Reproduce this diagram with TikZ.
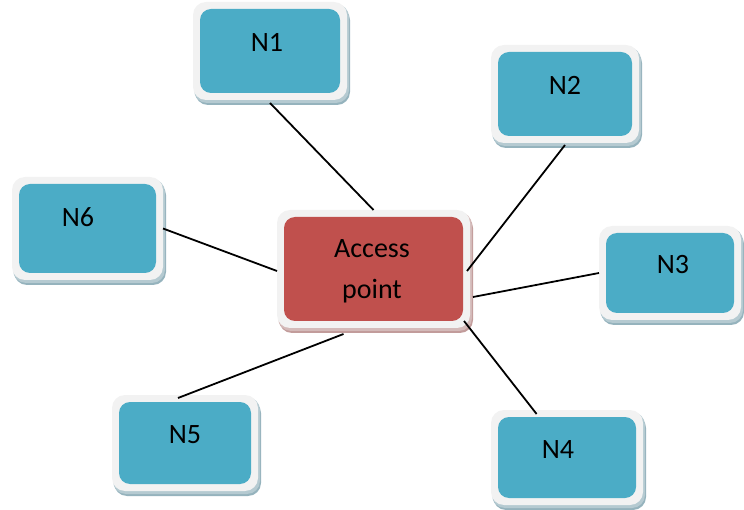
\documentclass[tikz,border=0pt]{standalone}
\usepackage{fontspec}
\setmainfont{Carlito}
\usetikzlibrary{calc}
\definecolor{teal}{HTML}{4BACC6}
\definecolor{apred}{HTML}{C0504D}
\definecolor{framecol}{HTML}{F2F2F2}
\definecolor{blueshadow}{HTML}{95B3BD}
\definecolor{redshadow}{HTML}{C29C9B}
\tikzset{
  framebox/.style={fill=framecol, rounded corners=13pt, inner sep=0pt, outer sep=0pt},
  labeltext/.style={font=\fontsize{28}{33}\selectfont, text=black, inner sep=0pt},
  link/.style={draw=black, line width=1.8pt}
}
% #1 name, #2 x1, #3 y1, #4 x2, #5 y2, #6 fill, #7 shadow colour
\newcommand\netbox[7]{%
  \fill[#7, rounded corners=13pt] (#2+2,#3+5) rectangle (#4+3,#5+5);
  \fill[white, rounded corners=13pt] (#2+1,#3+3) rectangle (#4+1,#5+2);
  \fill[#7!70!white, rounded corners=13pt] (#2+1,#3+2) rectangle (#4+2,#5+3);
  \node[framebox, minimum width={#4-#2}, minimum height={#5-#3}] (#1) at ({(#2+#4)/2},{(#3+#5)/2}) {};
  \fill[#6, rounded corners=11pt] (#2+7,#3+7) rectangle (#4-7,#5-7);
}
\begin{document}
\begin{tikzpicture}[x=1pt,y=-1pt]
\useasboundingbox (0,0) rectangle (744,510);
\netbox{n1}{193}{2}{347}{100}{teal}{blueshadow}
\netbox{n2}{491}{45}{639}{143}{teal}{blueshadow}
\netbox{n3}{599}{226}{741}{320}{teal}{blueshadow}
\netbox{n4}{491}{410}{643}{505}{teal}{blueshadow}
\netbox{n5}{112}{395}{258}{491}{teal}{blueshadow}
\netbox{n6}{12}{177}{163}{280}{teal}{blueshadow}
\netbox{ap}{277}{210}{470}{328}{apred}{redshadow}
\node[labeltext] (t1) at (267,42) {N1};
\node[labeltext] (t2) at (565,85) {N2};
\node[labeltext] (t3) at (673,265) {N3};
\node[labeltext] (t4) at (558,450) {N4};
\node[labeltext] (t5) at (185,435) {N5};
\node[labeltext] (t6) at (78,217) {N6};
\node[labeltext, anchor=base] (ta) at (372,258) {Access};
\node[labeltext, anchor=base] (tb) at (372,299) {point};
\draw[link] ($(n1.south)+(0,3)$) -- (ap.north);
\draw[link] ($(n2.south)+(0,2)$) -- ($(ap.east)+(-3,2)$);
\draw[link] (n3.west) -- ($(ap.east)+(3,28)$);
\draw[link] ($(ap.south east)+(-6,-7)$) -- ($(n4.north west)!0.3!(n4.north east)+(0,4)$);
\draw[link] ($(ap.south)+(-30,6)$) -- ($(n5.north)+(-7,3)$);
\draw[link] (n6.east) -- ($(ap.west)+(0,2)$);
\end{tikzpicture}
\end{document}
